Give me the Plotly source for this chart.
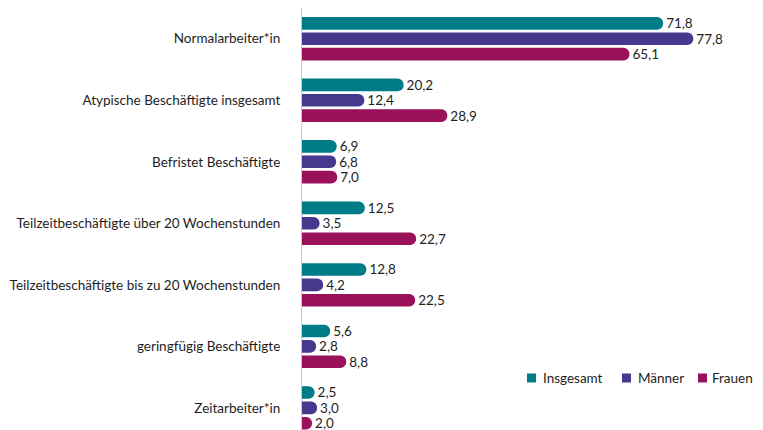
import plotly.graph_objects as go

categories = [
    "Normalarbeiter*in",
    "Atypische Beschäftigte insgesamt",
    "Befristet Beschäftigte",
    "Teilzeitbeschäftigte über 20 Wochenstunden",
    "Teilzeitbeschäftigte bis zu 20 Wochenstunden",
    "geringfügig Beschäftigte",
    "Zeitarbeiter*in",
]
insgesamt = [71.8, 20.2, 6.9, 12.5, 12.8, 5.6, 2.5]
maenner = [77.8, 12.4, 6.8, 3.5, 4.2, 2.8, 3.0]
frauen = [65.1, 28.9, 7.0, 22.7, 22.5, 8.8, 2.0]

series_names = ["Insgesamt", "Männer", "Frauen"]
series_values = [insgesamt, maenner, frauen]
series_colors = ["#007C89", "#45398D", "#981159"]

FONT = "Lato"
TXT = "#1e1e1e"
fig = go.Figure()
for name, vals, color in zip(series_names, series_values, series_colors):
    fig.add_trace(go.Bar(
        y=categories, x=vals, name=name, orientation="h",
        marker=dict(color=color, line=dict(width=0)),
        texttemplate="%{x:.1f}", textposition="outside",
        constraintext="none",
        textfont=dict(family=FONT, size=13.5, color=TXT),
        cliponaxis=False, showlegend=False,
    ))

# legend (key squares + labels), placed at bottom right like the reference
legend_sq_x = [(0.4967, 0.5166), (0.7064, 0.7263), (0.8742, 0.8940)]
legend_txt = [(0.5276, "left"), (0.7373, "left"), (1.0, "right")]
for name, color, (x0, x1), (tx, anc) in zip(series_names, series_colors, legend_sq_x, legend_txt):
    fig.add_shape(type="rect", xref="paper", yref="paper", x0=x0, x1=x1,
                  y0=0.1126, y1=0.1339, fillcolor=color, line=dict(width=0))
    fig.add_annotation(xref="paper", yref="paper", x=tx, y=0.1232, text=name,
                       showarrow=False, xanchor=anc, yanchor="middle",
                       font=dict(family=FONT, size=13.5, color=TXT))

fig.update_layout(
    width=747, height=422,
    margin=dict(l=294, r=0, t=0, b=0),
    paper_bgcolor="white", plot_bgcolor="white",
    barmode="group", bargap=0.25, bargroupgap=0.18,
    barcornerradius=7,
    separators=",.",
    font=dict(family=FONT, size=13.5, color=TXT),
    showlegend=False,
)
fig.update_xaxes(range=[0, 90.06], visible=False, showgrid=False, zeroline=False)
fig.update_yaxes(range=[6.36, -0.5], showline=True, linecolor="#cccccc", linewidth=1,
                 showgrid=False, zeroline=False, ticks="", ticklabelstandoff=18,
                 automargin=False,
                 tickfont=dict(family=FONT, size=13.5, color=TXT))

fig.write_html("out.html")
